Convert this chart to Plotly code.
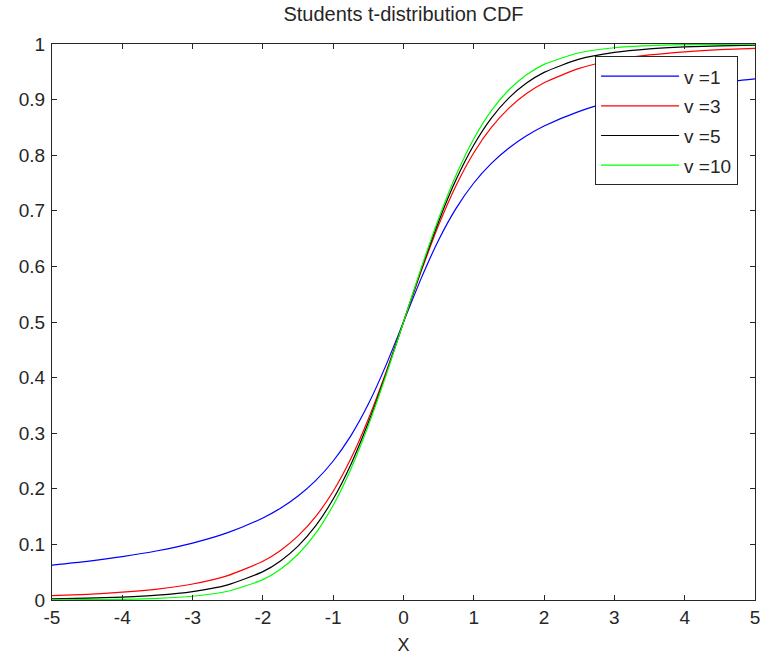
import plotly.graph_objects as go

x = [-5, -4.5, -4, -3.5, -3, -2.5, -2, -1.75, -1.5, -1.25, -1, -0.75, -0.5, -0.25,
     0, 0.25, 0.5, 0.75, 1, 1.25, 1.5, 1.75, 2, 2.5, 3, 3.5, 4, 4.5, 5]

cdf_v1 = [0.0628, 0.0696, 0.0780, 0.0886, 0.1024, 0.1211, 0.1476, 0.1652, 0.1872, 0.2148,
          0.2500, 0.2952, 0.3524, 0.4220, 0.5000, 0.5780, 0.6476, 0.7048, 0.7500, 0.7852,
          0.8128, 0.8348, 0.8524, 0.8789, 0.8976, 0.9114, 0.9220, 0.9304, 0.9372]
cdf_v3 = [0.0077, 0.0102, 0.0140, 0.0197, 0.0288, 0.0439, 0.0697, 0.0892, 0.1153, 0.1500,
          0.1955, 0.2539, 0.3257, 0.4094, 0.5000, 0.5906, 0.6743, 0.7461, 0.8045, 0.8500,
          0.8847, 0.9108, 0.9303, 0.9561, 0.9712, 0.9803, 0.9860, 0.9898, 0.9923]
cdf_v5 = [0.0021, 0.0032, 0.0052, 0.0087, 0.0151, 0.0272, 0.0510, 0.0703, 0.0970, 0.1333,
          0.1816, 0.2434, 0.3191, 0.4063, 0.5000, 0.5937, 0.6809, 0.7566, 0.8184, 0.8667,
          0.9030, 0.9297, 0.9490, 0.9728, 0.9849, 0.9913, 0.9948, 0.9968, 0.9979]
cdf_v10 = [0.0003, 0.0006, 0.0013, 0.0029, 0.0067, 0.0157, 0.0367, 0.0553, 0.0823, 0.1199,
           0.1704, 0.2353, 0.3140, 0.4038, 0.5000, 0.5962, 0.6860, 0.7647, 0.8296, 0.8801,
           0.9177, 0.9447, 0.9633, 0.9843, 0.9933, 0.9971, 0.9987, 0.9994, 0.9997]

series = [("v =1", cdf_v1, "#0000ff"), ("v =3", cdf_v3, "#ff0000"),
          ("v =5", cdf_v5, "#000000"), ("v =10", cdf_v10, "#00ff00")]

x_ticks = [-5, -4, -3, -2, -1, 0, 1, 2, 3, 4, 5]
y_ticks = [0, 0.1, 0.2, 0.3, 0.4, 0.5, 0.6, 0.7, 0.8, 0.9, 1]
y_tick_text = ["0", "0.1", "0.2", "0.3", "0.4", "0.5", "0.6", "0.7", "0.8", "0.9", "1"]

FONT = "Liberation Sans, Arial"
INK = "#262626"

fig = go.Figure()
for i, (name, ys, col) in enumerate(series):
    fig.add_trace(go.Scatter(x=x, y=ys, mode="lines", name=name, legendgroup=f"g{i}",
                             line=dict(color=col, width=1.2, shape="spline", smoothing=0.6)))

axis_common = dict(showline=True, linecolor=INK, linewidth=1, mirror="allticks",
                   ticks="inside", ticklen=5, tickcolor=INK, showgrid=False,
                   zeroline=False, automargin=False,
                   tickfont=dict(family=FONT, size=19, color=INK))

fig.update_layout(
    width=761, height=655,
    margin=dict(l=52, r=6, t=44, b=55),
    paper_bgcolor="white", plot_bgcolor="white",
    title=dict(text="Students t-distribution CDF", x=0.5, xref="paper", xanchor="center",
               y=0.99, yanchor="top",
               font=dict(family=FONT, size=20, color=INK)),
    xaxis=dict(range=[-5, 5], tickvals=x_ticks, ticktext=[str(t) for t in x_ticks],
               title=dict(text="X", font=dict(family=FONT, size=18, color=INK), standoff=13),
               **axis_common),
    yaxis=dict(range=[0, 1], tickvals=y_ticks, ticktext=y_tick_text, ticklabelstandoff=2,
               **axis_common),
    legend=dict(x=0.7725, y=0.978, xanchor="left", yanchor="top", bgcolor="white",
                bordercolor=INK, borderwidth=1, tracegroupgap=2, itemwidth=78,
                font=dict(family=FONT, size=19, color=INK)),
    showlegend=True,
)

fig.write_html("out.html")
